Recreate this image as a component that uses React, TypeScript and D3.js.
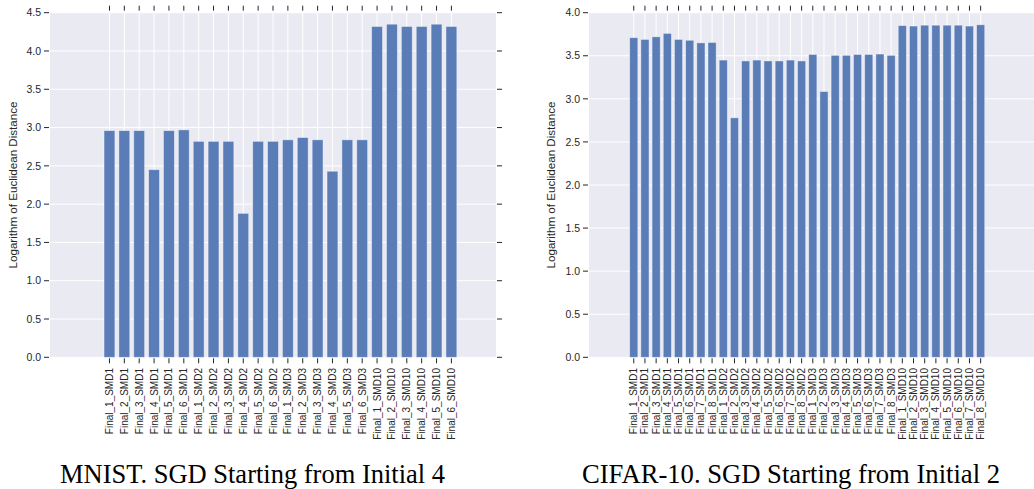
import * as d3 from "d3";

const mnistLabels = [
  "Final_1_SMD1", "Final_2_SMD1", "Final_3_SMD1", "Final_4_SMD1", "Final_5_SMD1", "Final_6_SMD1",
  "Final_1_SMD2", "Final_2_SMD2", "Final_3_SMD2", "Final_4_SMD2", "Final_5_SMD2", "Final_6_SMD2",
  "Final_1_SMD3", "Final_2_SMD3", "Final_3_SMD3", "Final_4_SMD3", "Final_5_SMD3", "Final_6_SMD3",
  "Final_1_SMD10", "Final_2_SMD10", "Final_3_SMD10", "Final_4_SMD10", "Final_5_SMD10", "Final_6_SMD10",
];
const mnistValues = [
  2.96, 2.96, 2.96, 2.45, 2.96, 2.97,
  2.82, 2.82, 2.82, 1.88, 2.82, 2.82,
  2.84, 2.87, 2.84, 2.43, 2.84, 2.84,
  4.32, 4.35, 4.32, 4.32, 4.35, 4.32,
];
const mnistYTicks = [0, 0.5, 1.0, 1.5, 2.0, 2.5, 3.0, 3.5, 4.0, 4.5];

const cifarLabels = [
  "Final_1_SMD1", "Final_2_SMD1", "Final_3_SMD1", "Final_4_SMD1", "Final_5_SMD1", "Final_6_SMD1", "Final_7_SMD1", "Final_8_SMD1",
  "Final_1_SMD2", "Final_2_SMD2", "Final_3_SMD2", "Final_4_SMD2", "Final_5_SMD2", "Final_6_SMD2", "Final_7_SMD2", "Final_8_SMD2",
  "Final_1_SMD3", "Final_2_SMD3", "Final_3_SMD3", "Final_4_SMD3", "Final_5_SMD3", "Final_6_SMD3", "Final_7_SMD3", "Final_8_SMD3",
  "Final_1_SMD10", "Final_2_SMD10", "Final_3_SMD10", "Final_4_SMD10", "Final_5_SMD10", "Final_6_SMD10", "Final_7_SMD10", "Final_8_SMD10",
];
const cifarValues = [
  3.71, 3.69, 3.72, 3.76, 3.69, 3.68, 3.65, 3.655,
  3.45, 2.78, 3.44, 3.45, 3.44, 3.44, 3.45, 3.44,
  3.515, 3.085, 3.505, 3.505, 3.515, 3.515, 3.52, 3.505,
  3.85, 3.845, 3.855, 3.855, 3.855, 3.855, 3.845, 3.86,
];
const cifarYTicks = [0, 0.5, 1.0, 1.5, 2.0, 2.5, 3.0, 3.5, 4.0];

const bg = "#eaeaf2";
const barColor = "#5a7db8";
const textColor = "#262626";
const plotTop = 12.7;
const plotBottom = 357.3;

type PanelProps = {
  labels: string[];
  values: number[];
  yTicks: number[];
  yMax: number;
  xDomain: [number, number];
  xRange: [number, number];
  yLabelX: number;
  rightTicks: boolean;
  caption: string;
  captionX: number;
  captionW: number;
};

function Panel(p: PanelProps) {
  const x = d3.scaleLinear().domain(p.xDomain).range(p.xRange);
  const y = d3.scaleLinear().domain([0, p.yMax]).range([plotBottom, plotTop]);
  const [x0, x1] = p.xRange;
  const barW = x(0.73) - x(0);
  const midY = (plotTop + plotBottom) / 2;

  return (
    <g>
      <rect x={x0} y={plotTop} width={x1 - x0} height={plotBottom - plotTop} fill={bg} />
      {p.yTicks.map((t) => (
        <line key={"h" + t} x1={x0} x2={x1} y1={y(t)} y2={y(t)} stroke="#fff" strokeWidth={1} />
      ))}
      {p.values.map((_, i) => (
        <line key={"v" + i} x1={x(i)} x2={x(i)} y1={plotTop} y2={plotBottom} stroke="#fff" strokeWidth={1} />
      ))}
      {p.values.map((v, i) => (
        <rect
          key={"b" + i}
          x={x(i) - barW / 2}
          y={y(v)}
          width={barW}
          height={y(0) - y(v)}
          fill={barColor}
          stroke="#ffffff"
          strokeOpacity={0.5}
          strokeWidth={0.8}
        />
      ))}
      {/* y ticks */}
      {p.yTicks.map((t) => (
        <g key={"yt" + t}>
          <line x1={x0 - 6} x2={x0 - 1} y1={y(t)} y2={y(t)} stroke={textColor} strokeWidth={1} />
          {p.rightTicks && (
            <line x1={x1 + 1} x2={x1 + 6} y1={y(t)} y2={y(t)} stroke={textColor} strokeWidth={1} />
          )}
          <text x={x0 - 9} y={y(t)} dy="0.35em" textAnchor="end" fontSize={10.5} fill={textColor}>
            {t.toFixed(1)}
          </text>
        </g>
      ))}
      {/* x ticks top and bottom, rotated labels */}
      {p.labels.map((l, i) => (
        <g key={"xt" + i}>
          <line x1={x(i)} x2={x(i)} y1={plotTop - 7} y2={plotTop - 2} stroke={textColor} strokeWidth={1} />
          <line x1={x(i)} x2={x(i)} y1={plotBottom + 1} y2={plotBottom + 6} stroke={textColor} strokeWidth={1} />
          <text
            transform={`translate(${x(i)},368) rotate(-90)`}
            dy="0.35em"
            textAnchor="end"
            fontSize={10}
            fill={textColor}
          >
            {l}
          </text>
        </g>
      ))}
      <text
        transform={`translate(${p.yLabelX},${midY}) rotate(-90)`}
        dy="0.35em"
        textAnchor="middle"
        fontSize={11.6}
        fill={textColor}
      >
        Logarithm of Euclidean Distance
      </text>
      <text
        x={p.captionX}
        y={483}
        textAnchor="middle"
        fontFamily="'Liberation Serif', 'DejaVu Serif', serif"
        fontSize={27}
        fill="#000"
        textLength={p.captionW}
        lengthAdjust="spacingAndGlyphs"
      >
        {p.caption}
      </text>
    </g>
  );
}

export default function App() {
  return (
    <svg
      width={1034}
      height={489}
      style={{ position: "absolute", left: 0, top: 0, background: "#fff" }}
      fontFamily="'Liberation Sans', Arial, sans-serif"
    >
      <Panel
        labels={mnistLabels}
        values={mnistValues}
        yTicks={mnistYTicks}
        yMax={4.5}
        xDomain={[-4, 26]}
        xRange={[50, 496]}
        yLabelX={12.5}
        rightTicks={true}
        caption="MNIST. SGD Starting from Initial 4"
        captionX={252.5}
        captionW={385}
      />
      <Panel
        labels={cifarLabels}
        values={cifarValues}
        yTicks={cifarYTicks}
        yMax={4.0}
        xDomain={[-4, 36]}
        xRange={[589, 1036.6]}
        yLabelX={551}
        rightTicks={false}
        caption="CIFAR-10. SGD Starting from Initial 2"
        captionX={791}
        captionW={418}
      />
    </svg>
  );
}
